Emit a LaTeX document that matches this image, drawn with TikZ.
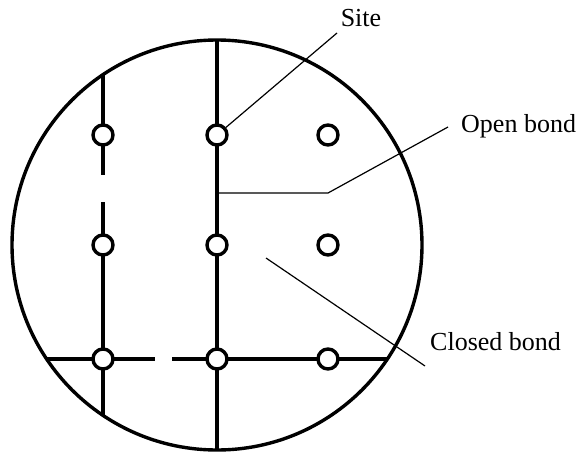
\documentclass[tikz,border=0pt]{standalone}
\usepackage{fontspec}
\setmainfont{Liberation Serif}
\begin{document}
\begin{tikzpicture}[x=1pt,y=-1pt,
  site/.style={circle,draw,line width=3.4pt,fill=white,minimum size=20pt,inner sep=0pt},
  bond/.style={line width=3.4pt},
  leader/.style={line width=1.2pt},
  lbl/.style={inner sep=0pt,font=\fontsize{26}{30}\selectfont},
  disk/.style={circle,draw,line width=3.4pt,minimum size=410pt,inner sep=0pt}]
\useasboundingbox (0,0) rectangle (584,455);
% boundary
\node[disk] (D) at (217,245) {};
% boundary points
\coordinate (t1) at (103,74.6);
\coordinate (b1) at (103,415.4);
\coordinate (t2) at (217,40);
\coordinate (b2) at (217,450);
\coordinate (l3) at (46.6,359);
\coordinate (r3) at (387.4,359);
% gap ends
\coordinate (g1a) at (103,175);
\coordinate (g1b) at (103,202);
\coordinate (g3a) at (155,359);
\coordinate (g3b) at (172,359);
% bonds (drawn under sites)
\draw[bond] (t1) -- (103,135);
\draw[bond] (103,135) -- (g1a);
\draw[bond] (g1b) -- (103,245) -- (103,359) -- (b1);
\draw[bond] (t2) -- (b2);
\draw[bond] (l3) -- (103,359) -- (g3a);
\draw[bond] (g3b) -- (217,359) -- (328,359) -- (r3);
% sites
\node[site] (s11) at (103,135) {};
\node[site] (s12) at (217,135) {};
\node[site] (s13) at (328,135) {};
\node[site] (s21) at (103,245) {};
\node[site] (s22) at (217,245) {};
\node[site] (s23) at (328,245) {};
\node[site] (s31) at (103,359) {};
\node[site] (s32) at (217,359) {};
\node[site] (s33) at (328,359) {};
% labels
\node[lbl,anchor=base] (site) at (361,27) {Site};
\node[lbl,anchor=base west] (open) at (461,132) {Open bond};
\node[lbl,anchor=base west] (closed) at (430,350) {Closed bond};
% leaders
\coordinate (lsite) at (337,33);
\draw[leader] (s12) -- (lsite);
\coordinate (ob1) at (217,193);
\coordinate (ob2) at (328,193);
\coordinate (lopen) at (448,127);
\draw[leader] (ob1) -- (ob2) -- (lopen);
\coordinate (cb1) at (266,258);
\coordinate (cb2) at (425,366);
\draw[leader] (cb1) -- (cb2);
\end{tikzpicture}
\end{document}
